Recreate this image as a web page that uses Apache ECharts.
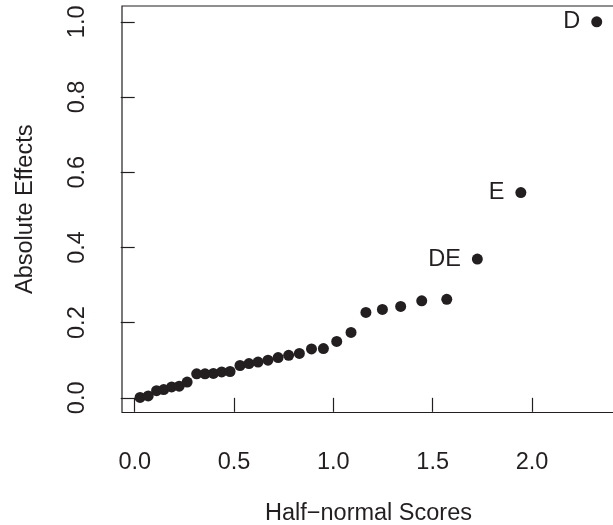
<!DOCTYPE html>
<html>
<head>
<meta charset="utf-8">
<script src="https://cdn.jsdelivr.net/npm/echarts@6/dist/echarts.min.js"></script>
<style>
  html, body { margin: 0; padding: 0; background: #fff; }
  #chart { width: 613px; height: 525px; }
</style>
</head>
<body>
<div id="chart"></div>
<script>
// Half-normal plot of absolute effects
const halfNormalScores = [0.027, 0.068, 0.110, 0.146, 0.186, 0.224, 0.264, 0.312, 0.354, 0.396,
  0.438, 0.480, 0.530, 0.575, 0.621, 0.671, 0.722, 0.775, 0.829, 0.890,
  0.950, 1.017, 1.089, 1.164, 1.247, 1.339, 1.445, 1.571, 1.725, 1.944, 2.326];
const absoluteEffects = [0.001, 0.005, 0.019, 0.022, 0.029, 0.031, 0.042, 0.064, 0.064, 0.065,
  0.069, 0.070, 0.086, 0.091, 0.095, 0.100, 0.107, 0.113, 0.118, 0.130,
  0.131, 0.150, 0.174, 0.227, 0.235, 0.243, 0.258, 0.262, 0.369, 0.546, 1.000];
const effectNames = ['', '', '', '', '', '', '', '', '', '',
  '', '', '', '', '', '', '', '', '', '',
  '', '', '', '', '', '', '', '', 'DE', 'E', 'D'];
const xTicks = [0.0, 0.5, 1.0, 1.5, 2.0];
const yTicks = [0.0, 0.2, 0.4, 0.6, 0.8, 1.0];

const ink = '#231f20';
const font = '"Liberation Sans", Arial, Helvetica, sans-serif';

const points = halfNormalScores.map((x, i) => ({
  value: [x, absoluteEffects[i]],
  name: effectNames[i]
}));

const chart = echarts.init(document.getElementById('chart'), null, { renderer: 'canvas' });
chart.setOption({
  animation: false,
  backgroundColor: '#fff',
  grid: {
    left: 122, top: 6, width: 493, height: 406.5,
    containLabel: false, outerBoundsMode: 'none',
    show: true, borderColor: ink, borderWidth: 1.2, backgroundColor: 'transparent'
  },
  xAxis: {
    type: 'value', min: -0.064, max: 2.418,
    splitLine: { show: false },
    axisLine: { show: false },
    axisTick: { show: true, inside: false, length: 14, customValues: xTicks,
      lineStyle: { color: ink, width: 1.2 } },
    axisLabel: { customValues: xTicks, margin: 38, color: ink, fontFamily: font, fontSize: 23.5,
      formatter: v => v.toFixed(1) },
    name: 'Half\u2212normal Scores', nameLocation: 'middle', nameGap: 89,
    nameTextStyle: { color: ink, fontFamily: font, fontSize: 23.5 }
  },
  yAxis: {
    type: 'value', min: -0.039, max: 1.042,
    splitLine: { show: false },
    axisLine: { show: false },
    axisTick: { show: true, inside: false, length: 14, customValues: yTicks,
      lineStyle: { color: ink, width: 1.2 } },
    axisLabel: { customValues: yTicks, rotate: 90, margin: 32, color: ink, fontFamily: font, fontSize: 23.5,
      formatter: v => v.toFixed(1) },
    name: 'Absolute Effects', nameLocation: 'middle', nameGap: 84,
    nameTextStyle: { color: ink, fontFamily: font, fontSize: 23.5 }
  },
  series: [{
    type: 'scatter',
    data: points,
    symbol: 'circle',
    symbolSize: 11,
    itemStyle: { color: ink, opacity: 1 },
    label: {
      show: true, position: 'left', distance: 11,
      formatter: p => p.name,
      color: ink, fontFamily: font, fontSize: 23.5
    }
  }]
});
</script>
</body>
</html>
